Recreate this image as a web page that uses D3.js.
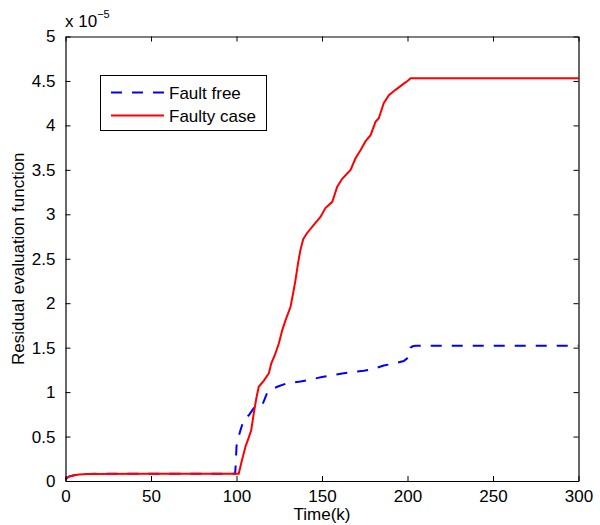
<!DOCTYPE html>
<html>
<head>
<meta charset="utf-8">
<script src="https://cdn.jsdelivr.net/npm/d3@7"></script>
<style>
  html, body { margin: 0; padding: 0; background: #fff; }
  svg { display: block; }
  text { font-family: "Liberation Sans", Arial, Helvetica, sans-serif; fill: #000; }
</style>
</head>
<body>
<svg id="chart" width="600" height="525"></svg>
<script>
// ---- data (values in units of 1e-5) ----
const xTicks = [0, 50, 100, 150, 200, 250, 300];
const yTicks = [0, 0.5, 1, 1.5, 2, 2.5, 3, 3.5, 4, 4.5, 5];
const yTickLabels = ["0", "0.5", "1", "1.5", "2", "2.5", "3", "3.5", "4", "4.5", "5"];
const seriesNames = ["Fault free", "Faulty case"];

const timeFree = [0, 2, 5, 8, 13, 50, 99.2, 99.6, 100, 101, 102.3, 104.3, 107.2, 110.1, 112.5, 115, 117.9, 120.5, 123.8, 129.6, 137.4, 143, 150, 156, 161.8, 168, 174.4, 180, 186.1, 192, 197.8, 199.8, 201.2, 201.8, 203, 204.7, 300];
const valFree  = [0.02, 0.05, 0.065, 0.072, 0.08, 0.082, 0.082, 0.2, 0.39, 0.48, 0.57, 0.69, 0.74, 0.82, 0.84, 0.85, 0.99, 1.03, 1.06, 1.10, 1.12, 1.14, 1.17, 1.19, 1.21, 1.225, 1.24, 1.26, 1.30, 1.32, 1.35, 1.38, 1.45, 1.50, 1.515, 1.52, 1.52];

const timeFaulty = [0, 2, 5, 8, 13, 50, 101.3, 103, 105.3, 107, 108.6, 110.1, 111.5, 113, 116, 118.9, 120.3, 122.5, 124.8, 126.8, 128.7, 131.6, 133, 134.5, 136, 137.4, 139, 141.3, 145.2, 149.1, 152, 156, 158.9, 161.8, 166.7, 169.6, 172.5, 175.4, 178.4, 181.3, 183.2, 186.1, 189.1, 193, 197.8, 200, 201.8, 300];
const valFaulty  = [0.02, 0.05, 0.065, 0.072, 0.08, 0.082, 0.082, 0.22, 0.39, 0.48, 0.57, 0.76, 0.92, 1.06, 1.13, 1.21, 1.32, 1.42, 1.55, 1.70, 1.81, 1.96, 2.10, 2.26, 2.45, 2.60, 2.72, 2.79, 2.88, 2.97, 3.07, 3.14, 3.31, 3.40, 3.50, 3.63, 3.72, 3.82, 3.89, 4.04, 4.08, 4.25, 4.34, 4.40, 4.47, 4.50, 4.53, 4.53];

// ---- layout ----
const svg = d3.select("#chart");
const pLeft = 65.5, pRight = 578.5, pTop = 36.5, pBottom = 481;
const x = d3.scaleLinear().domain([0, 300]).range([pLeft, pRight]);
const y = d3.scaleLinear().domain([0, 5]).range([pBottom, pTop]);

const fontSize = 17;

// series lines
const line = d3.line().x(d => x(d[0])).y(d => y(d[1]));
const freeData = timeFree.map((t, i) => [t, valFree[i]]);
const faultyData = timeFaulty.map((t, i) => [t, valFaulty[i]]);

svg.append("path").datum(freeData)
  .attr("d", line).attr("fill", "none")
  .attr("stroke", "#0000ff").attr("stroke-width", 2)
  .attr("stroke-dasharray", "11,10");
svg.append("path").datum(faultyData)
  .attr("d", line).attr("fill", "none")
  .attr("stroke", "#ff0000").attr("stroke-width", 2);

// axes (inner ticks, mirrored box)
const tickLen = 5;
const xAxisB = d3.axisBottom(x).tickValues(xTicks).tickSizeInner(-tickLen).tickSizeOuter(0).tickPadding(9);
const xAxisT = d3.axisTop(x).tickValues(xTicks).tickSizeInner(-tickLen).tickSizeOuter(0).tickFormat("");
const yAxisL = d3.axisLeft(y).tickValues(yTicks).tickSizeInner(-tickLen).tickSizeOuter(0).tickPadding(10)
  .tickFormat((d, i) => yTickLabels[i]);
const yAxisR = d3.axisRight(y).tickValues(yTicks).tickSizeInner(-tickLen).tickSizeOuter(0).tickFormat("");

function style(g) {
  g.selectAll(".domain").attr("stroke", "#000").attr("stroke-width", 1.2);
  g.selectAll(".tick line").attr("stroke", "#000").attr("stroke-width", 1);
  g.selectAll(".tick text").attr("font-size", fontSize).attr("font-family", "Liberation Sans, Arial, sans-serif").attr("fill", "#000");
}
svg.append("g").attr("transform", `translate(0,${pBottom})`).call(xAxisB).call(style);
svg.append("g").attr("transform", `translate(0,${pTop})`).call(xAxisT).call(style);
svg.append("g").attr("transform", `translate(${pLeft},0)`).call(yAxisL).call(style);
svg.append("g").attr("transform", `translate(${pRight},0)`).call(yAxisR).call(style);

// axis labels
svg.append("text")
  .attr("x", (pLeft + pRight) / 2).attr("y", 520)
  .attr("text-anchor", "middle").attr("font-size", fontSize)
  .text("Time(k)");
svg.append("text")
  .attr("transform", `translate(24,${(pTop + pBottom) / 2}) rotate(-90)`)
  .attr("text-anchor", "middle").attr("font-size", fontSize)
  .text("Residual evaluation function");

// exponent
const ex = svg.append("text").attr("x", 65).attr("y", 27).attr("font-size", fontSize);
ex.append("tspan").text("x 10");
ex.append("tspan").attr("dy", -9).attr("font-size", 11).text("\u22125");

// legend
const lg = svg.append("g");
lg.append("rect").attr("x", 100.5).attr("y", 75.5).attr("width", 166).attr("height", 55)
  .attr("fill", "#fff").attr("stroke", "#000").attr("stroke-width", 1);
const legendItems = [
  { name: seriesNames[0], color: "#0000ff", dash: "11,10", yy: 92.5 },
  { name: seriesNames[1], color: "#ff0000", dash: null, yy: 115.5 }
];
legendItems.forEach(it => {
  const l = lg.append("line").attr("x1", 111).attr("x2", 164).attr("y1", it.yy).attr("y2", it.yy)
    .attr("stroke", it.color).attr("stroke-width", 2);
  if (it.dash) l.attr("stroke-dasharray", it.dash);
  lg.append("text").attr("x", 169).attr("y", it.yy + 6).attr("font-size", fontSize).text(it.name);
});
</script>
</body>
</html>
